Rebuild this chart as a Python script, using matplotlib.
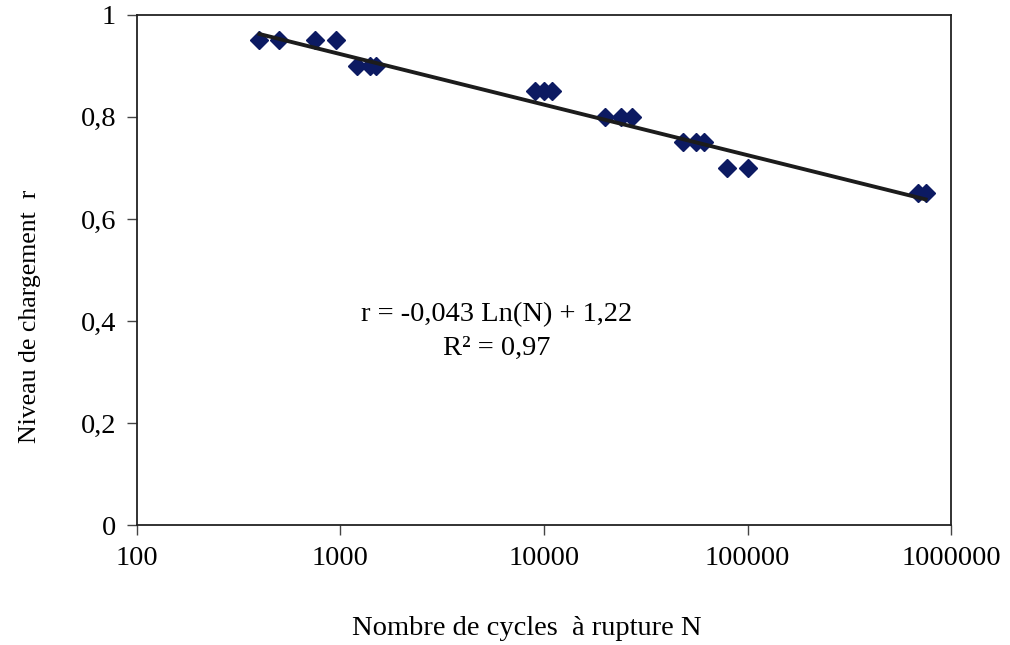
import matplotlib.pyplot as plt
import numpy as np
from matplotlib.ticker import FixedLocator, FuncFormatter, NullLocator

plt.rcParams['font.family'] = ['Liberation Serif', 'DejaVu Serif']

# Données
cycles = [400, 500, 750, 950, 1200, 1400, 1500,
          9000, 10000, 11000, 20000, 24000, 27000,
          48000, 56000, 61000, 79000, 100000, 690000, 750000]
niveau = [0.95, 0.95, 0.95, 0.95, 0.90, 0.90, 0.90,
          0.85, 0.85, 0.85, 0.80, 0.80, 0.80,
          0.75, 0.75, 0.75, 0.70, 0.70, 0.65, 0.65]

# Courbe de tendance logarithmique
pente = -0.043
origine = 1.22

x_ticks = [100, 1000, 10000, 100000, 1000000]
y_ticks = [0, 0.2, 0.4, 0.6, 0.8, 1.0]

fig = plt.figure(figsize=(10.1, 6.45), dpi=100)
ax = fig.add_axes([0.1356, 0.186, 0.806, 0.791])

ax.plot(cycles, niveau, linestyle="none", marker="D", markersize=9.5,
        color="#0c1a62", zorder=2)

n_fit = np.array([min(cycles), max(cycles)])
ax.plot(n_fit, pente * np.log(n_fit) + origine, color="#1c1c1c",
        linewidth=2.8, zorder=3)

ax.set_xscale("log")
ax.set_xlim(100, 1000000)
ax.set_ylim(0, 1)
ax.xaxis.set_major_locator(FixedLocator(x_ticks))
ax.xaxis.set_minor_locator(NullLocator())
ax.xaxis.set_major_formatter(FuncFormatter(lambda v, p: f"{int(round(v))}"))
ax.yaxis.set_major_locator(FixedLocator(y_ticks))
ax.yaxis.set_major_formatter(
    FuncFormatter(lambda v, p: f"{v:g}".replace(".", ",")))

for s in ax.spines.values():
    s.set_linewidth(1.3)
    s.set_color("#222222")
ax.tick_params(direction="out", length=7, width=1.0, labelsize=20.5,
               color="#444444", pad=8)

ax.set_xlabel("Nombre de cycles  à rupture N", fontsize=20.5)
ax.xaxis.set_label_coords(0.479, -0.202)
ax.xaxis.label.set_va("center")
ax.set_ylabel("Niveau de chargement  r", fontsize=18.5)
ax.yaxis.set_label_coords(-0.131, 0.41)
ax.yaxis.label.set_va("center")

ax.text(0.442, 0.38, "r = -0,043 Ln(N) + 1,22\nR² = 0,97",
        transform=ax.transAxes, ha="center", va="center",
        fontsize=20.5, linespacing=1.45)

plt.savefig("out.png", dpi=100)
plt.close()
